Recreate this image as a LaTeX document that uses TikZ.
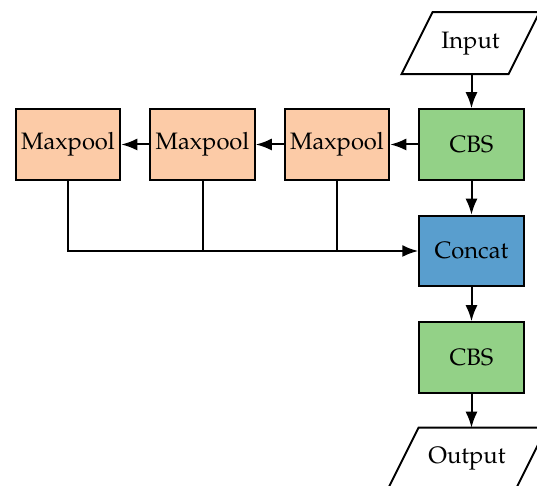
\documentclass[tikz,border=0pt]{standalone}
\usepackage[T1]{fontenc}
\usepackage{mathpazo}
\usepackage{tikz}
\usetikzlibrary{arrows.meta, positioning}
\usepackage{xcolor}

\definecolor{poolcol}{RGB}{252,203,167}
\definecolor{cbscol}{RGB}{147,209,135}
\definecolor{catcol}{RGB}{89,158,206}

\begin{document}
\begin{tikzpicture}[
node distance=13.6pt and 11.2pt,
font=\fontsize{9.5pt}{11.5pt}\selectfont,
box/.style={draw,
rectangle,
line width=0.8pt,
minimum width=41.8pt,
minimum height=28.2pt,
inner sep=1pt,
align=center},
io/.style={rectangle,
minimum height=24.4pt,
inner sep=1pt},
para/.style={line width=0.8pt, line join=miter},
arrow/.style={-{Latex[length=6.4pt,width=4.8pt]}, line width=0.8pt}
]

\useasboundingbox (0,0) rectangle (214.8pt,-194.4pt);

\node[box, fill=cbscol] (cbs1) at (188.6pt,-57.8pt) {CBS};
\node[io, minimum width=42.4pt, above=of cbs1, xshift=-0.4pt] (input) {Input};
\node[box, fill=poolcol, left=of cbs1] (pool3) {Maxpool};
\node[box, fill=poolcol, left=of pool3] (pool2) {Maxpool};
\node[box, fill=poolcol, left=of pool2] (pool1) {Maxpool};
\node[box, fill=catcol, below=of cbs1] (concat) {Concat};
\node[box, fill=cbscol, below=of concat] (cbs2) {CBS};
\node[io, minimum width=50.8pt, below=of cbs2, xshift=-1.8pt] (output) {Output};

% parallelograms for input / output
\draw[para] ([xshift=6.2pt]input.north west) -- ([xshift=6.2pt]input.north east)
  -- ([xshift=-6.2pt]input.south east) -- ([xshift=-6.2pt]input.south west) -- cycle;
\draw[para] ([xshift=6.2pt]output.north west) -- ([xshift=6.2pt]output.north east)
  -- ([xshift=-6.2pt]output.south east) -- ([xshift=-6.2pt]output.south west) -- cycle;

\draw[arrow] (input.south -| cbs1) -- (cbs1);
\draw[arrow] (cbs1) -- (pool3);
\draw[arrow] (pool3) -- (pool2);
\draw[arrow] (pool2) -- (pool1);
\draw[arrow] (cbs1) -- (concat);

\draw[arrow] (pool1.south) |- (concat.west);
\draw[line width=0.8pt] (pool2.south) -- (pool2.south |- concat.west);
\draw[line width=0.8pt] (pool3.south) -- (pool3.south |- concat.west);

\draw[arrow] (concat) -- (cbs2);
\draw[arrow] (cbs2) -- (cbs2.south |- output.north);

\end{tikzpicture}
\end{document}
